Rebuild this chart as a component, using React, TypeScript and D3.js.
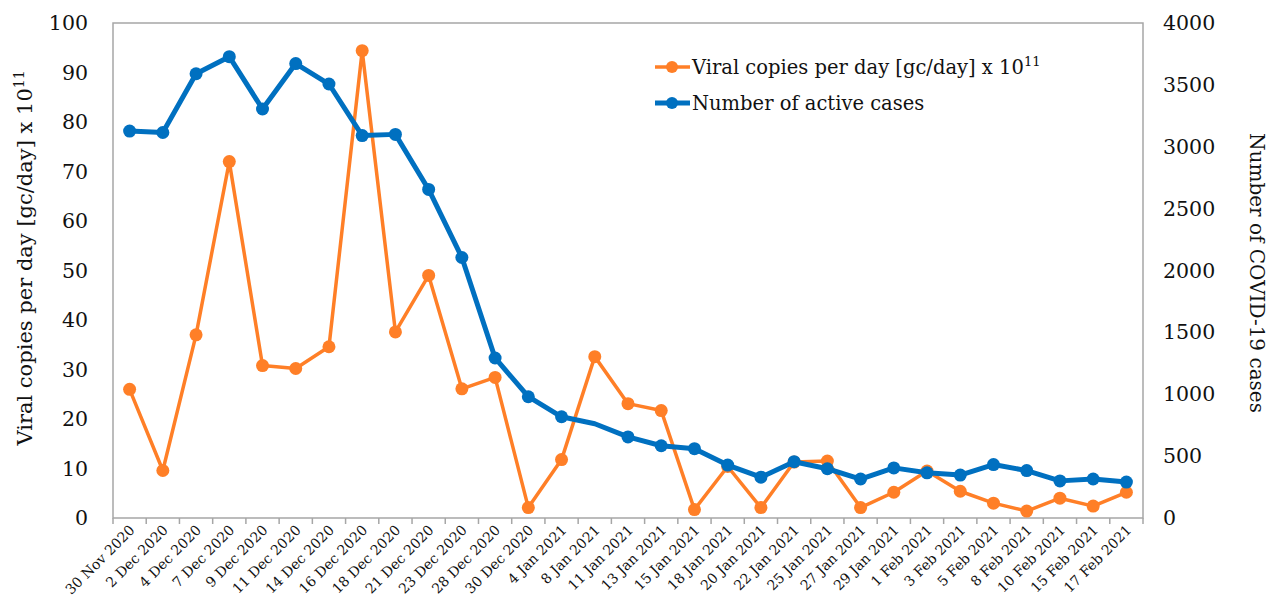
import * as d3 from "d3";

const dates = [
  "30 Nov 2020", "2 Dec 2020", "4 Dec 2020", "7 Dec 2020", "9 Dec 2020", "11 Dec 2020",
  "14 Dec 2020", "16 Dec 2020", "18 Dec 2020", "21 Dec 2020", "23 Dec 2020", "28 Dec 2020",
  "30 Dec 2020", "4 Jan 2021", "8 Jan 2021", "11 Jan 2021", "13 Jan 2021", "15 Jan 2021",
  "18 Jan 2021", "20 Jan 2021", "22 Jan 2021", "25 Jan 2021", "27 Jan 2021", "29 Jan 2021",
  "1 Feb 2021", "3 Feb 2021", "5 Feb 2021", "8 Feb 2021", "10 Feb 2021", "15 Feb 2021",
  "17 Feb 2021",
];

const viralCopies = [
  26, 9.6, 37, 72, 30.8, 30.2, 34.6, 94.4, 37.6, 49, 26.1, 28.4,
  2.1, 11.8, 32.6, 23.1, 21.7, 1.7, 10.4, 2.1, 11.3, 11.5, 2.1, 5.2,
  9.5, 5.4, 3, 1.4, 4, 2.4, 5.2,
];

const activeCases = [
  3127, 3115, 3590, 3728, 3305, 3672, 3507, 3090, 3100, 2655, 2105, 1293,
  980, 818, 762, 655, 584, 560, 428, 330, 455, 398, 315, 405,
  365, 347, 432, 383, 300, 315, 290,
];

// dates on the blue line drawn without a marker
const blueNoMarker = ["8 Jan 2021"];

const leftTicks = [0, 10, 20, 30, 40, 50, 60, 70, 80, 90, 100];
const rightTicks = [0, 500, 1000, 1500, 2000, 2500, 3000, 3500, 4000];

const W = 1272;
const H = 599;
const margin = { left: 113, right: 129, top: 23, bottom: 81 };
const ORANGE = "#FF7F27";
const BLUE = "#0070C0";
const GRID = "#A6A6A6";
const FONT = "'DejaVu Serif', serif";

export default function App() {
  const x = d3
    .scaleBand()
    .domain(dates)
    .range([margin.left, W - margin.right]);
  const yLeft = d3.scaleLinear().domain([0, 100]).range([H - margin.bottom, margin.top]);
  const yRight = d3.scaleLinear().domain([0, 4000]).range([H - margin.bottom, margin.top]);
  const cx = (d: string) => (x(d) ?? 0) + x.bandwidth() / 2;

  const orangeLine = d3
    .line<number>()
    .x((_, i) => cx(dates[i]))
    .y((v) => yLeft(v))(viralCopies);
  const blueLine = d3
    .line<number>()
    .x((_, i) => cx(dates[i]))
    .y((v) => yRight(v))(activeCases);

  const x0 = margin.left;
  const x1 = W - margin.right;
  const y0 = H - margin.bottom;
  const y1 = margin.top;

  return (
    <svg
      width={W}
      height={H}
      style={{ position: "absolute", left: 0, top: 0, background: "#fff" }}
      fontFamily={FONT}
    >
      <rect x={x0} y={y1} width={x1 - x0} height={y0 - y1} fill="none" stroke={GRID} strokeWidth={1.5} />

      {/* x ticks */}
      {[...dates.map((d) => x(d) ?? 0), x1].map((t, i) => (
        <line key={i} x1={t} x2={t} y1={y0} y2={y0 + 6} stroke={GRID} strokeWidth={1.5} />
      ))}
      {dates.map((d) => (
        <text
          key={d}
          transform={`translate(${cx(d) + 6},${y0 + 13}) rotate(-45)`}
          textAnchor="end"
          fontSize={14}
          fill="#111"
        >
          {d}
        </text>
      ))}

      {/* axis labels */}
      {leftTicks.map((t) => (
        <text key={t} x={88} y={yLeft(t) + 7} textAnchor="end" fontSize={20.5} fill="#111">
          {t}
        </text>
      ))}
      {rightTicks.map((t) => (
        <text key={t} x={1163} y={yRight(t) + 7} textAnchor="start" fontSize={20.5} fill="#111">
          {t}
        </text>
      ))}

      <text transform="translate(32,258) rotate(-90)" textAnchor="middle" fontSize={21} fill="#111">
        Viral copies per day [gc/day] x 10
        <tspan dy={-8} fontSize={14}>11</tspan>
      </text>
      <text transform="translate(1250,273) rotate(90)" textAnchor="middle" fontSize={20} fill="#111">
        Number of COVID-19 cases
      </text>

      {/* series */}
      <path d={orangeLine ?? ""} fill="none" stroke={ORANGE} strokeWidth={3.5} strokeLinejoin="round" />
      {viralCopies.map((v, i) => (
        <circle key={i} cx={cx(dates[i])} cy={yLeft(v)} r={6.5} fill={ORANGE} />
      ))}
      <path d={blueLine ?? ""} fill="none" stroke={BLUE} strokeWidth={5} strokeLinejoin="round" />
      {activeCases.map((v, i) =>
        blueNoMarker.includes(dates[i]) ? null : (
          <circle key={i} cx={cx(dates[i])} cy={yRight(v)} r={6.5} fill={BLUE} />
        )
      )}

      {/* legend */}
      <g>
        <line x1={655} x2={690} y1={67} y2={67} stroke={ORANGE} strokeWidth={3.5} />
        <circle cx={672} cy={67} r={6} fill={ORANGE} />
        <text x={692} y={74} fontSize={19.5} fill="#111">
          Viral copies per day [gc/day] x 10
          <tspan dy={-8} fontSize={13}>11</tspan>
        </text>
        <line x1={655} x2={690} y1={103} y2={103} stroke={BLUE} strokeWidth={5} />
        <circle cx={672} cy={103} r={6} fill={BLUE} />
        <text x={692} y={110} fontSize={19.5} fill="#111">
          Number of active cases
        </text>
      </g>
    </svg>
  );
}
